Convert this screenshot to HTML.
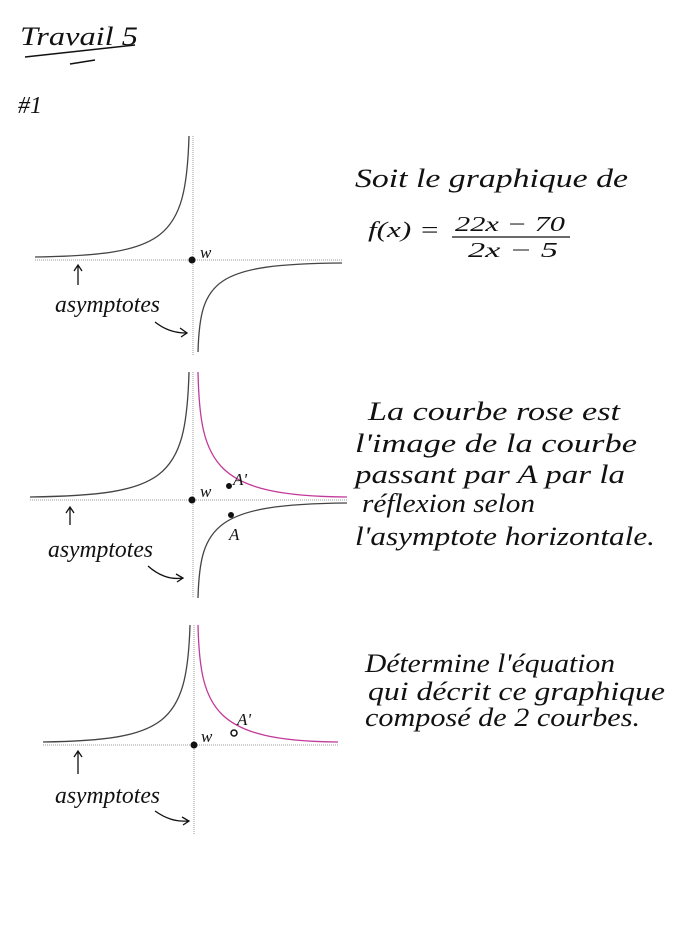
<!DOCTYPE html>
<html><head><meta charset="utf-8"><style>
html,body{margin:0;padding:0;background:#fff;}
svg{display:block;}
text{font-family:"Liberation Serif",serif;font-style:italic;fill:#111;}
</style></head><body>
<svg width="680" height="925" viewBox="0 0 680 925" xmlns="http://www.w3.org/2000/svg">
<!-- title -->
<text x="20" y="45" font-size="26" textLength="118" lengthAdjust="spacingAndGlyphs">Travail 5</text>
<path d="M25 57 L135 45 M95 60 L70 64" stroke="#111" stroke-width="1.5" fill="none"/>
<text x="18" y="113" font-size="24">#1</text>

<!-- graph 1 -->
<g stroke="#999" stroke-width="1" stroke-dasharray="1,1" fill="none">
<line x1="35" y1="260" x2="342" y2="260"/><line x1="193" y1="136" x2="193" y2="355"/>
</g>
<g stroke="#444" stroke-width="1.3" fill="none">
<path d="M35 257 C165 255 186 240 189 136"/>
<path d="M198 352 C200 280 215 264 342 263"/>
</g>
<circle cx="192" cy="260" r="3.5" fill="#111"/>
<text x="200" y="258" font-size="17">w</text>
<path d="M78 285 L78 266 M74 271 L78 265 L82 271" stroke="#111" stroke-width="1.3" fill="none"/>
<text x="55" y="312" font-size="24" textLength="105" lengthAdjust="spacingAndGlyphs">asymptotes</text>
<path d="M155 322 C165 330 175 333 186 333 M180 328 L187 333 L181 337" stroke="#111" stroke-width="1.3" fill="none"/>

<text x="355" y="187" font-size="26" textLength="273" lengthAdjust="spacingAndGlyphs">Soit le graphique de</text>
<text x="368" y="237" font-size="22" textLength="72" lengthAdjust="spacingAndGlyphs">f(x) =</text>
<text x="455" y="231" font-size="21" textLength="110" lengthAdjust="spacingAndGlyphs">22x − 70</text>
<line x1="452" y1="237" x2="570" y2="237" stroke="#111" stroke-width="1.3"/>
<text x="468" y="257" font-size="21" textLength="90" lengthAdjust="spacingAndGlyphs">2x − 5</text>

<!-- graph 2 -->
<g stroke="#999" stroke-width="1" stroke-dasharray="1,1" fill="none">
<line x1="30" y1="500" x2="347" y2="500"/><line x1="193" y1="372" x2="193" y2="598"/>
</g>
<g stroke="#444" stroke-width="1.3" fill="none">
<path d="M30 497 C165 495 186 480 189 372"/>
<path d="M198 598 C200 525 215 504 347 503"/>
</g>
<path d="M198 372 C200 465 215 496 347 497" stroke="#c23a9a" stroke-width="1.3" fill="none"/>
<circle cx="192" cy="500" r="3.5" fill="#111"/>
<circle cx="229" cy="486" r="3" fill="#111"/>
<circle cx="231" cy="515" r="3" fill="#111"/>
<text x="200" y="497" font-size="17">w</text>
<text x="233" y="485" font-size="17">A'</text>
<text x="229" y="540" font-size="17">A</text>
<path d="M70 525 L70 508 M66 513 L70 507 L74 513" stroke="#111" stroke-width="1.3" fill="none"/>
<text x="48" y="557" font-size="24" textLength="105" lengthAdjust="spacingAndGlyphs">asymptotes</text>
<path d="M148 566 C158 575 170 580 182 578 M176 574 L183 578 L177 582" stroke="#111" stroke-width="1.3" fill="none"/>

<text x="368" y="420" font-size="26" textLength="252" lengthAdjust="spacingAndGlyphs">La courbe rose est</text>
<text x="355" y="452" font-size="26" textLength="282" lengthAdjust="spacingAndGlyphs">l'image de la courbe</text>
<text x="355" y="483" font-size="26" textLength="270" lengthAdjust="spacingAndGlyphs">passant par A par la</text>
<text x="362" y="512" font-size="26" textLength="173" lengthAdjust="spacingAndGlyphs">réflexion selon</text>
<text x="355" y="545" font-size="26" textLength="300" lengthAdjust="spacingAndGlyphs">l'asymptote horizontale.</text>

<!-- graph 3 -->
<g stroke="#999" stroke-width="1" stroke-dasharray="1,1" fill="none">
<line x1="43" y1="745" x2="338" y2="745"/><line x1="194" y1="625" x2="194" y2="834"/>
</g>
<path d="M43 742 C165 740 187 725 190 625" stroke="#444" stroke-width="1.3" fill="none"/>
<path d="M198 625 C200 710 215 741 338 742" stroke="#c23a9a" stroke-width="1.3" fill="none"/>
<circle cx="194" cy="745" r="3.5" fill="#111"/>
<circle cx="234" cy="733" r="3" fill="none" stroke="#111" stroke-width="1.5"/>
<text x="201" y="742" font-size="17">w</text>
<text x="237" y="725" font-size="17">A'</text>
<path d="M78 774 L78 752 M74 757 L78 751 L82 757" stroke="#111" stroke-width="1.3" fill="none"/>
<text x="55" y="803" font-size="24" textLength="105" lengthAdjust="spacingAndGlyphs">asymptotes</text>
<path d="M155 811 C165 818 175 822 188 821 M182 817 L189 821 L183 825" stroke="#111" stroke-width="1.3" fill="none"/>

<text x="365" y="672" font-size="26" textLength="250" lengthAdjust="spacingAndGlyphs">Détermine l'équation</text>
<text x="368" y="700" font-size="26" textLength="297" lengthAdjust="spacingAndGlyphs">qui décrit ce graphique</text>
<text x="365" y="726" font-size="26" textLength="275" lengthAdjust="spacingAndGlyphs">composé de 2 courbes.</text>
</svg>
</body></html>
